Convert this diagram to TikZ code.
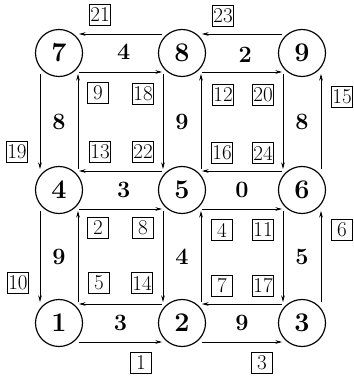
\documentclass[tikz,border=0pt]{standalone}
\usepackage{xcolor}
\usetikzlibrary{arrows.meta,calc}
\tikzset{
  >={Stealth[length=2mm,width=1.1mm]},
  vtx/.style  ={circle,draw,line width=1pt,minimum size=1.41cm,inner sep=0pt,
                font=\fontsize{23}{23}\selectfont\bfseries},
  wt/.style   ={font=\fontsize{20}{20}\selectfont\bfseries,inner sep=1pt},
  tag/.style  ={draw,line width=0.8pt,minimum width=0.64cm,minimum height=0.62cm,
                inner sep=0.5pt,font=\fontsize{18}{18}\selectfont},
  flow/.style ={->,line width=0.6pt},
}
\begin{document}
\begin{tikzpicture}[x=1cm,y=1cm]
\useasboundingbox (0,0) rectangle (10.62,11.31);
% vertices
\node[vtx] (n7) at (1.77,9.72) {7};
\node[vtx] (n8) at (5.46,9.72) {8};
\node[vtx] (n9) at (9.06,9.72) {9};
\node[vtx] (n4) at (1.77,5.61) {4};
\node[vtx] (n5) at (5.46,5.61) {5};
\node[vtx] (n6) at (9.06,5.61) {6};
\node[vtx] (n1) at (1.77,1.62) {1};
\node[vtx] (n2) at (5.46,1.62) {2};
\node[vtx] (n3) at (9.06,1.62) {3};
% arcs: upper one leftward, lower one rightward
\foreach \a/\b in {7/8,8/9,4/5,5/6,1/2,2/3}{
  \draw[flow] ([shift={(-0.6,0.57)}]n\b.center) -- ([shift={(0.6,0.57)}]n\a.center);
  \draw[flow] ([shift={(0.6,-0.57)}]n\a.center) -- ([shift={(-0.6,-0.57)}]n\b.center);
}
% arcs: left one downward, right one upward
\foreach \u/\l in {7/4,8/5,9/6,4/1,5/2,6/3}{
  \draw[flow] ([shift={(-0.57,-0.63)}]n\u.center) -- ([shift={(-0.57,0.63)}]n\l.center);
  \draw[flow] ([shift={(0.57,0.63)}]n\l.center) -- ([shift={(0.57,-0.63)}]n\u.center);
}
% weights
\node[wt] (w78) at ($(n7)!0.5!(n8)+(0.1,0.05)$) {4};
\node[wt] (w89) at ($(n8)!0.5!(n9)+(0.1,-0.05)$) {2};
\node[wt] (w45) at ($(n4)!0.5!(n5)+(0.1,0)$) {3};
\node[wt] (w56) at ($(n5)!0.5!(n6)$) {0};
\node[wt] (w12) at ($(n1)!0.5!(n2)$) {3};
\node[wt] (w23) at ($(n2)!0.5!(n3)$) {9};
\node[wt] (w74) at ($(n7)!0.5!(n4)$) {8};
\node[wt] (w85) at ($(n8)!0.5!(n5)$) {9};
\node[wt] (w96) at ($(n9)!0.5!(n6)$) {8};
\node[wt] (w41) at ($(n4)!0.5!(n1)$) {9};
\node[wt] (w52) at ($(n5)!0.5!(n2)$) {4};
\node[wt] (w63) at ($(n6)!0.5!(n3)$) {5};
% outer tags
\node[tag] (b21) at (3.00,10.86) {21};
\node[tag] (b23) at (6.69,10.83) {23};
\node[tag] (b19) at (0.51,6.75) {19};
\node[tag] (b15) at (10.26,8.40) {15};
\node[tag] (b10) at (0.54,2.82) {10};
\node[tag] (b6) at (10.26,4.41) {6};
\node[tag] (b1) at (4.23,0.42) {1};
\node[tag] (b3) at (7.86,0.42) {3};
% inner tags
\node[tag] (b9) at (2.94,8.52) {9};
\node[tag] (b18) at (4.29,8.49) {18};
\node[tag] (b13) at (3.00,6.75) {13};
\node[tag] (b22) at (4.29,6.75) {22};
\node[tag] (b12) at (6.69,8.46) {12};
\node[tag] (b20) at (7.89,8.46) {20};
\node[tag] (b16) at (6.66,6.72) {16};
\node[tag] (b24) at (7.89,6.72) {24};
\node[tag] (b2) at (2.94,4.47) {2};
\node[tag] (b8) at (4.29,4.47) {8};
\node[tag] (b5) at (2.97,2.82) {5};
\node[tag] (b14) at (4.26,2.82) {14};
\node[tag] (b4) at (6.66,4.41) {4};
\node[tag] (b11) at (7.89,4.41) {11};
\node[tag] (b7) at (6.66,2.73) {7};
\node[tag] (b17) at (7.89,2.73) {17};
\end{tikzpicture}
\end{document}
